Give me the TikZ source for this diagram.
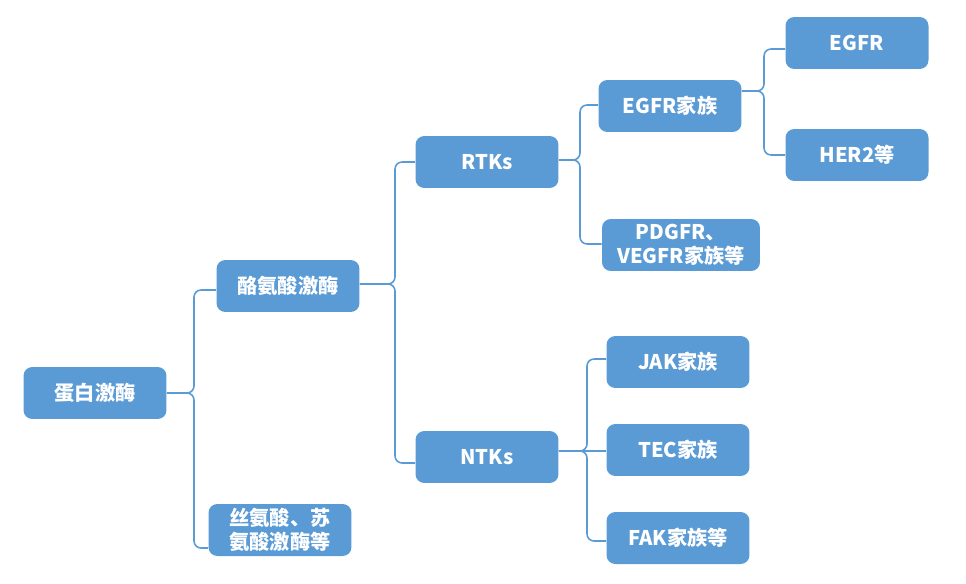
\documentclass[tikz,border=0pt]{standalone}
\usepackage{fontspec}
\setmainfont{Noto Sans CJK SC}
\definecolor{boxblue}{HTML}{5B9BD5}
\begin{document}
\begin{tikzpicture}[x=0.02cm,y=-0.02cm,
	box/.style={fill=boxblue,rounded corners=5pt,text=white,font=\fontsize{11.5}{13.5}\selectfont\bfseries,
		minimum width=2.86cm,minimum height=1.04cm,align=center,inner sep=2pt},
	link/.style={draw=boxblue,line width=0.9pt,rounded corners=4pt}]
		\useasboundingbox (0,0) rectangle (966,584);
		% boxes
		\node[box] (pk) at (95,393) {蛋白激酶};
		\node[box] (tk) at (288,286) {酪氨酸激酶};
		\node[box] (stk) at (280,530) {丝氨酸、苏\\氨酸激酶等};
		\node[box] (rtk) at (487,162) {RTKs};
		\node[box] (ntk) at (487,457) {NTKs};
		\node[box] (egfrf) at (670,106) {EGFR家族};
		\node[box,minimum width=3.16cm] (pdgfr) at (681,245) {PDGFR、\\VEGFR家族等};
		\node[box] (egfr) at (857,43) {EGFR};
		\node[box] (her2) at (857,155) {HER2等};
		\node[box] (jak) at (678,362) {JAK家族};
		\node[box] (tec) at (678,450) {TEC家族};
		\node[box] (fak) at (678,538) {FAK家族等};
		% braces
		\draw[link] (pk.east |- 0,393) -- (194,393) -- (194,290) -- (tk.west |- 0,290);
		\draw[link] (pk.east |- 0,393) -- (194,393) -- (194,548) -- (stk.west |- 0,548);
		\draw[link] (tk.east |- 0,284) -- (395,284) -- (395,162) -- (rtk.west |- 0,162);
		\draw[link] (tk.east |- 0,284) -- (395,284) -- (395,463) -- (ntk.west |- 0,463);
		\draw[link] (rtk.east |- 0,160) -- (580,160) -- (580,105) -- (egfrf.west |- 0,105);
		\draw[link] (rtk.east |- 0,160) -- (580,160) -- (580,244) -- (pdgfr.west |- 0,244);
		\draw[link] (egfrf.east |- 0,91) -- (764,91) -- (764,49) -- (egfr.west |- 0,49);
		\draw[link] (egfrf.east |- 0,91) -- (764,91) -- (764,155) -- (her2.west |- 0,155);
		\draw[link] (ntk.east |- 0,451) -- (587,451) -- (587,359) -- (jak.west |- 0,359);
		\draw[link] (ntk.east |- 0,451) -- (tec.west |- 0,451);
		\draw[link] (ntk.east |- 0,451) -- (587,451) -- (587,541) -- (fak.west |- 0,541);
\end{tikzpicture}
\end{document}
